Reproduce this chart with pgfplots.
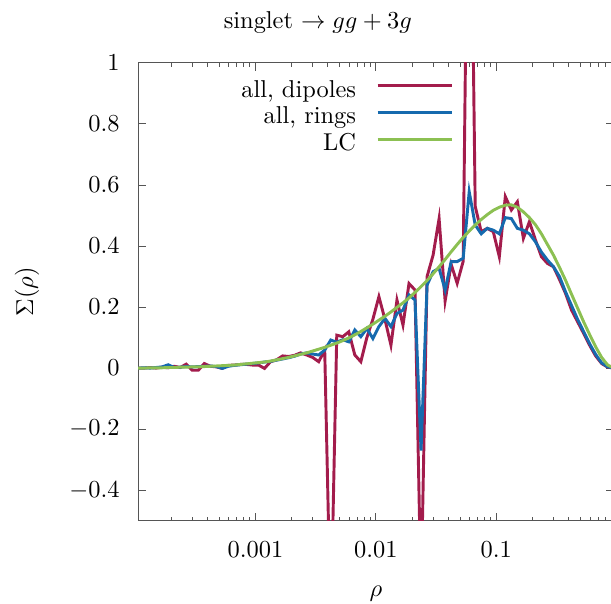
\documentclass[border=0pt]{standalone}
\usepackage{pgfplots}
\usepackage{pgfplotstable}
\pgfplotsset{compat=1.18}
\definecolor{cdip}{RGB}{163,28,76}
\definecolor{cring}{RGB}{22,106,174}
\definecolor{clc}{RGB}{140,192,82}
\definecolor{cframe}{RGB}{85,85,85}
\pgfplotstableread{
x dip ring lc
1.0593e-4 0.000 0.000 0.000
1.1885e-4 0.000 0.001 0.000
1.3335e-4 0.002 0.000 0.001
1.4962e-4 0.000 0.002 0.001
1.6788e-4 0.003 0.004 0.001
1.8836e-4 0.001 0.011 0.002
2.1135e-4 0.006 0.002 0.002
2.3714e-4 0.002 0.003 0.003
2.6607e-4 0.013 0.005 0.003
2.9854e-4 -0.007 0.004 0.004
3.3497e-4 -0.007 0.005 0.004
3.7584e-4 0.015 0.006 0.005
4.2170e-4 0.006 0.007 0.006
4.7315e-4 0.004 0.005 0.007
5.3088e-4 -0.001 -0.001 0.008
5.9566e-4 0.009 0.006 0.009
6.6834e-4 0.010 0.009 0.010
7.4989e-4 0.012 0.011 0.012
8.4140e-4 0.012 0.013 0.014
9.4406e-4 0.010 0.015 0.016
1.0593e-3 0.010 0.017 0.018
1.1885e-3 -0.001 0.020 0.020
1.3335e-3 0.021 0.022 0.023
1.4962e-3 0.027 0.026 0.027
1.6788e-3 0.040 0.030 0.031
1.8836e-3 0.038 0.034 0.035
2.1135e-3 0.042 0.039 0.040
2.3714e-3 0.050 0.046 0.045
2.6607e-3 0.043 0.050 0.050
2.9854e-3 0.035 0.046 0.056
3.3497e-3 0.021 0.043 0.062
3.7584e-3 0.059 0.059 0.068
4.2170e-3 -0.85 0.092 0.075
4.7315e-3 0.108 0.085 0.082
5.3088e-3 0.103 0.093 0.090
5.9566e-3 0.119 0.086 0.099
6.6834e-3 0.043 0.125 0.109
7.4989e-3 0.021 0.103 0.120
8.4140e-3 0.100 0.130 0.132
9.4406e-3 0.160 0.097 0.144
1.0593e-2 0.234 0.136 0.157
1.1885e-2 0.160 0.163 0.170
1.3335e-2 0.075 0.136 0.184
1.4962e-2 0.223 0.179 0.199
1.6788e-2 0.141 0.190 0.214
1.8836e-2 0.277 0.240 0.230
2.1135e-2 0.256 0.223 0.248
2.3714e-2 -0.75 -0.27 0.267
2.6607e-2 0.300 0.272 0.287
2.9854e-2 0.370 0.316 0.309
3.3497e-2 0.490 0.327 0.332
3.7584e-2 0.220 0.256 0.356
4.2170e-2 0.340 0.349 0.381
4.7315e-2 0.278 0.349 0.405
5.3088e-2 0.350 0.360 0.428
5.9566e-2 2.100 0.578 0.449
6.6834e-2 0.530 0.469 0.469
7.4989e-2 0.447 0.440 0.487
8.4140e-2 0.458 0.458 0.503
9.4406e-2 0.447 0.452 0.517
1.0593e-1 0.365 0.440 0.527
1.1885e-1 0.562 0.493 0.534
1.3335e-1 0.518 0.490 0.535
1.4962e-1 0.545 0.458 0.527
1.6788e-1 0.425 0.452 0.512
1.8836e-1 0.480 0.440 0.493
2.1135e-1 0.420 0.414 0.470
2.3714e-1 0.365 0.380 0.440
2.6607e-1 0.343 0.354 0.405
2.9854e-1 0.332 0.332 0.370
3.3497e-1 0.290 0.300 0.330
3.7584e-1 0.245 0.250 0.288
4.2170e-1 0.190 0.205 0.242
4.7315e-1 0.152 0.160 0.197
5.3088e-1 0.114 0.120 0.152
5.9566e-1 0.075 0.080 0.110
6.6834e-1 0.040 0.045 0.070
7.4989e-1 0.015 0.017 0.035
8.4140e-1 0.003 0.004 0.010
9.4406e-1 0.000 0.000 0.000
}\datatable
\begin{document}
\begin{tikzpicture}
\begin{axis}[
  scale only axis,
  width=194.9pt, height=187.6pt,
  xmode=log,
  xmin=1.0593e-4, xmax=0.94406,
  ymin=-0.5, ymax=1,
  xtick={0.001,0.01,0.1},
  xticklabels={$0.001$,$0.01$,$0.1$},
  minor xtick={2e-4,3e-4,4e-4,5e-4,6e-4,7e-4,8e-4,9e-4,
               0.002,0.003,0.004,0.005,0.006,0.007,0.008,0.009,
               0.02,0.03,0.04,0.05,0.06,0.07,0.08,0.09,
               0.2,0.3,0.4,0.5,0.6,0.7,0.8,0.9},
  ytick={-0.4,-0.2,0,0.2,0.4,0.6,0.8,1},
  yticklabels={$-0.4$,$-0.2$,$0$,$0.2$,$0.4$,$0.6$,$0.8$,$1$},
  tick align=inside,
  major tick length=3.3pt,
  minor tick length=1.7pt,
  every tick/.style={cframe, line width=0.4pt},
  axis line style={cframe, line width=0.45pt},
  yticklabel style={inner sep=0pt, anchor=east, xshift=-7.4pt},
  xticklabel style={inner sep=0pt, anchor=north, yshift=-8.6pt},
  title={singlet $\rightarrow gg + 3g$},
  title style={at={(0.378,1)}, anchor=base, yshift=8.1pt, inner sep=0pt},
  legend plot pos=right,
  legend cell align=right,
  legend image code/.code={\draw[#1] (0pt,2.5pt) -- (30.7pt,2.5pt);},
  legend style={draw=none, fill=none, inner sep=0pt, outer sep=0pt,
    at={(0.664,0.966)}, anchor=north east, row sep=0pt, column sep=8.2pt,
    nodes={inner sep=0pt, text height=7.6pt, text depth=3.4pt}},
  clip=true,
]
\addplot[cdip, line width=1.2pt] table[x=x, y=dip] {\datatable};
\addlegendentry{all, dipoles}
\addplot[cring, line width=1.2pt] table[x=x, y=ring] {\datatable};
\addlegendentry{all, rings}
\addplot[clc, line width=1.2pt] table[x=x, y=lc] {\datatable};
\addlegendentry{LC}
\coordinate (bbsw) at (rel axis cs:0,0);
\coordinate (bbne) at (rel axis cs:1,1);
\coordinate (ylab) at (rel axis cs:0,0.5);
\coordinate (xlab) at (rel axis cs:0.5,0);
\end{axis}
\node[rotate=90, anchor=base, inner sep=0pt] at ([xshift=-43pt]ylab) {$\Sigma(\rho)$};
\node[anchor=base, inner sep=0pt] at ([yshift=-31.2pt]xlab) {$\rho$};
\pgfresetboundingbox
\path[use as bounding box] ([xshift=-56.6pt,yshift=-33.8pt]bbsw) rectangle ([xshift=-1.1pt,yshift=25.8pt]bbne);
\end{tikzpicture}
\end{document}
